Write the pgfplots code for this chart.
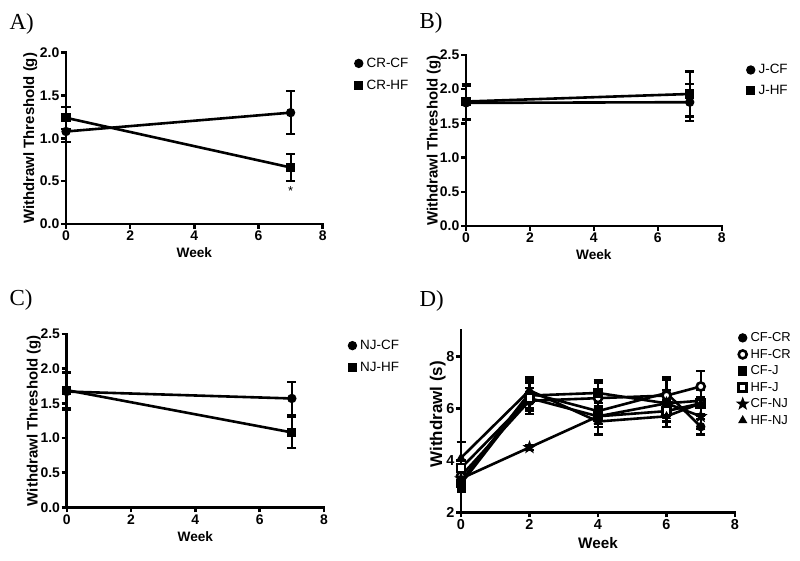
\documentclass[border=0pt]{standalone}
\usepackage{fontspec}
\setmainfont{Liberation Sans}
\newfontfamily\timesfont{Liberation Serif}
\usepackage{pgfplots}
\pgfplotsset{compat=1.18}

\pgfdeclareplotmark{fstar}{%
  \pgfpathmoveto{\pgfpointpolar{90}{1.35\pgfplotmarksize}}%
  \pgfpathlineto{\pgfpointpolar{126}{0.55\pgfplotmarksize}}%
  \pgfpathlineto{\pgfpointpolar{162}{1.35\pgfplotmarksize}}%
  \pgfpathlineto{\pgfpointpolar{198}{0.55\pgfplotmarksize}}%
  \pgfpathlineto{\pgfpointpolar{234}{1.35\pgfplotmarksize}}%
  \pgfpathlineto{\pgfpointpolar{270}{0.55\pgfplotmarksize}}%
  \pgfpathlineto{\pgfpointpolar{306}{1.35\pgfplotmarksize}}%
  \pgfpathlineto{\pgfpointpolar{342}{0.55\pgfplotmarksize}}%
  \pgfpathlineto{\pgfpointpolar{18}{1.35\pgfplotmarksize}}%
  \pgfpathlineto{\pgfpointpolar{54}{0.55\pgfplotmarksize}}%
  \pgfpathclose\pgfusepathqfillstroke}

\pgfplotsset{
  panel/.style={
    scale only axis, anchor=south west,
    axis x line=bottom, axis y line=left,
    axis line style={-, line width=2.8bp, line cap=rect},
    every outer x axis line/.append style={-},
    every outer y axis line/.append style={-},
    tick style={black, line width=2.4bp},
    tick align=outside, major tick length=5bp,
    xmin=0, xmax=8, xtick={0,2,4,6,8},
    enlargelimits=false, clip=false,
    /pgf/number format/assume math mode=true,
    tick label style={font=\bfseries\fontsize{14}{16}\selectfont},
    yticklabel style={inner sep=1.5bp},
    xticklabel style={inner sep=2bp},
    xlabel={Week},
    xlabel style={font=\bfseries\fontsize{13.7}{16}\selectfont, at={(axis description cs:0.5,0)}, anchor=base, yshift=-34bp},
    legend cell align=left,
    legend image code/.code={\path (-1bp,0bp) (9bp,0bp); \draw[##1, only marks] plot coordinates {(3.5bp,0bp)};},
  },
  lg/.style n args={3}{legend style={at={(#1,#2)}, anchor=north west, draw=none, fill=none,
     inner sep=0pt, outer sep=0pt, row sep=#3, nodes={inner sep=1bp},
     font=\fontsize{13.5}{15}\selectfont}},
  ser/.style={black, solid, line width=2.6bp, mark size=4bp,
    mark options={line width=1.3bp, solid},
    /pgfplots/error bars/y dir=both, /pgfplots/error bars/y explicit,
    /pgfplots/error bars/error mark=-,
    /pgfplots/error bars/error bar style={line width=2.2bp, solid},
    /pgfplots/error bars/error mark options={rotate=90, mark size=4.5bp, line width=2.2bp}},
}

\begin{document}
\begin{tikzpicture}
\useasboundingbox (0,0) rectangle (800bp,561bp);

% ---------- Panel A ----------
\node[anchor=base west, font=\timesfont\fontsize{23}{26}\selectfont] at (6bp,531.7bp) {A)};
\begin{axis}[panel, at={(66bp,337bp)}, width=256.7bp, height=171.3bp,
  ymin=0, ymax=2, ytick={0,0.5,1,1.5,2},
  yticklabel style={/pgf/number format/fixed, /pgf/number format/fixed zerofill, /pgf/number format/precision=1},
  ylabel={Withdrawl Threshold (g)},
  ylabel style={font=\bfseries\fontsize{15}{17}\selectfont, at={(axis description cs:-0.124,0.5)}, anchor=base, rotate=0},
  lg={1.118}{0.975}{9bp}]
\addplot[ser, mark=*] table[x=x, y=y, y error=e] {
x y e
0 1.08 0.12
7 1.30 0.25
};
\addlegendentry{CR-CF}
\addplot[ser, mark=square*] table[x=x, y=y, y error=e] {
x y e
0 1.24 0.13
7 0.66 0.16
};
\addlegendentry{CR-HF}
\node[font=\fontsize{13}{14}\selectfont] at (axis cs:7,0.39) {*};
\end{axis}

% ---------- Panel B ----------
\node[anchor=base west, font=\timesfont\fontsize{23}{26}\selectfont] at (416bp,532bp) {B)};
\begin{axis}[panel, at={(466bp,335bp)}, width=255.7bp, height=171bp,
  ymin=0, ymax=2.5, ytick={0,0.5,1,1.5,2,2.5},
  yticklabel style={/pgf/number format/fixed, /pgf/number format/fixed zerofill, /pgf/number format/precision=1},
  ylabel={Withdrawl Threshold (g)},
  ylabel style={font=\bfseries\fontsize{15}{17}\selectfont, at={(axis description cs:-0.111,0.5)}, anchor=base, rotate=0},
  lg={1.091}{0.95}{8bp}]
\addplot[ser, mark=*] table[x=x, y=y, y error=e] {
x y e
0 1.80 0.25
7 1.81 0.27
};
\addlegendentry{J-CF}
\addplot[ser, mark=square*] table[x=x, y=y, y error=e] {
x y e
0 1.82 0.26
7 1.93 0.33
};
\addlegendentry{J-HF}
\end{axis}

% ---------- Panel C ----------
\node[anchor=base west, font=\timesfont\fontsize{23}{26}\selectfont] at (6bp,255bp) {C)};
\begin{axis}[panel, at={(66.7bp,53.7bp)}, width=257.3bp, height=173.3bp,
  ymin=0, ymax=2.5, ytick={0,0.5,1,1.5,2,2.5},
  yticklabel style={/pgf/number format/fixed, /pgf/number format/fixed zerofill, /pgf/number format/precision=1},
  ylabel={Withdrawl Threshold (g)},
  ylabel style={font=\bfseries\fontsize{15}{17}\selectfont, at={(axis description cs:-0.113,0.5)}, anchor=base, rotate=0},
  lg={1.088}{0.97}{9bp}]
\addplot[ser, mark=*] table[x=x, y=y, y error=e] {
x y e
0 1.67 0.27
7 1.57 0.24
};
\addlegendentry{NJ-CF}
\addplot[ser, mark=square*] table[x=x, y=y, y error=e] {
x y e
0 1.69 0.26
7 1.08 0.23
};
\addlegendentry{NJ-HF}
\end{axis}

% ---------- Panel D ----------
\node[anchor=base west, font=\timesfont\fontsize{23}{26}\selectfont] at (416bp,254.3bp) {D)};
\begin{axis}[panel, at={(461bp,48.7bp)}, width=274bp, height=181.6bp,
  ymin=2, ymax=9, ytick={2,4,6,8},
  tick label style={font=\bfseries\fontsize{14.5}{16}\selectfont},
  xlabel style={font=\bfseries\fontsize{15.3}{17}\selectfont, yshift=-2bp},
  ylabel={Withdrawl (s)},
  ylabel style={font=\bfseries\fontsize{17}{19}\selectfont, at={(axis description cs:-0.069,0.54)}, anchor=base, rotate=0},
  lg={1.007}{0.995}{4bp}, legend style={font=\fontsize{13}{15}\selectfont}]
\addplot[ser, mark=*] table[x=x, y=y, y error=e] {
x y e
0 3.2 0.3
2 6.6 0.4
4 5.9 0.5
6 6.6 0.5
7 5.3 0.3
};
\addlegendentry{CF-CR}
\addplot[ser, mark=*, mark options={fill=white}] table[x=x, y=y, y error=e] {
x y e
0 3.4 0.3
2 6.3 0.5
4 6.4 0.7
6 6.5 0.7
7 6.85 0.6
};
\addlegendentry{HF-CR}
\addplot[ser, mark=square*] table[x=x, y=y, y error=e] {
x y e
0 3.1 0.3
2 6.5 0.6
4 6.6 0.4
6 6.2 0.5
7 6.3 0.5
};
\addlegendentry{CF-J}
\addplot[ser, mark=square*, mark options={fill=white}] table[x=x, y=y, y error=e] {
x y e
0 3.7 0.3
2 6.4 0.4
4 5.7 0.4
6 5.9 0.4
7 6.2 0.5
};
\addlegendentry{HF-J}
\addplot[ser, mark=fstar] table[x=x, y=y, y error=e] {
x y e
0 3.3 0.4
2 4.5 0.1
4 5.7 0.3
6 6.2 0.4
7 5.7 0.5
};
\addlegendentry{CF-NJ}
\addplot[ser, mark=triangle*] table[x=x, y=y, y error=e] {
x y e
0 4.1 0.6
2 6.7 0.5
4 5.5 0.5
6 5.7 0.4
7 6.2 0.6
};
\addlegendentry{HF-NJ}
\end{axis}
\end{tikzpicture}
\end{document}
